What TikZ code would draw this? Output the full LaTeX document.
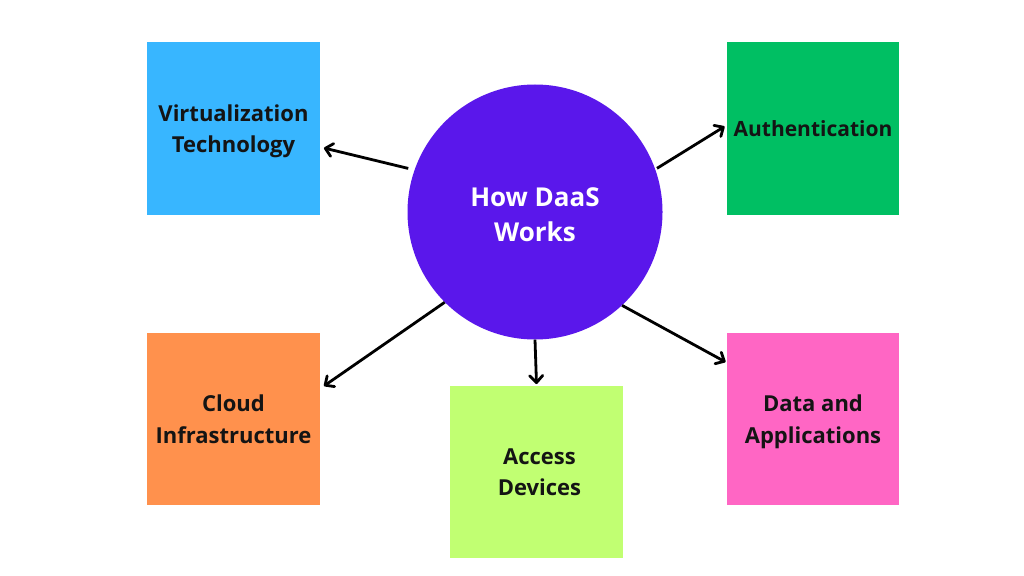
\documentclass[tikz,border=0pt]{standalone}
\usepackage{fontspec}
\setmainfont{Open Sans}
\usetikzlibrary{arrows.meta}
\definecolor{cblue}{HTML}{38B6FF}
\definecolor{cgreen}{HTML}{00BF63}
\definecolor{corange}{HTML}{FF914D}
\definecolor{clime}{HTML}{C1FF72}
\definecolor{cpink}{HTML}{FF66C4}
\definecolor{cpurple}{HTML}{5A17EB}
\newcommand{\nodepth}[1]{\raisebox{0pt}[\height][0pt]{#1}}
\newcommand{\tallertop}[1]{\raisebox{0pt}[\dimexpr\height+6pt\relax][\depth]{#1}}
\begin{document}
\begin{tikzpicture}[x=1pt,y=-1pt,
 tile/.style={minimum width=172.5pt,minimum height=172.5pt,inner sep=0pt,align=center,font=\fontsize{22pt}{31.5pt}\selectfont\bfseries,text=black!92},
 conn/.style={draw=black,line width=2.8pt,-{Straight Barb[length=7pt,width=13pt,line width=2.8pt,round]}}]
\useasboundingbox (0,0) rectangle (1024,575);
\fill[white] (0,0) rectangle (1024,575);
\node[tile,fill=cblue] (virt) at (233.5,128.5) {Virtualization\\\nodepth{Technology}};
\node[tile,fill=cgreen,font=\fontsize{21pt}{31.5pt}\selectfont\bfseries] (auth) at (813,128.5) {Authentication};
\node[tile,fill=corange] (cloud) at (233.5,419) {Cloud\\Infrastructure};
\node[tile,fill=clime] (access) at (536.5,472) {\hspace*{6pt}Access\\\hspace*{6pt}Devices};
\node[tile,fill=cpink] (data) at (813,419) {Data and\\\nodepth{Applications}};
\node[circle,fill=cpurple,minimum size=255pt,inner sep=0pt,align=center,text=white,font=\fontsize{26pt}{35pt}\selectfont\bfseries] (hub) at (535,212) {\tallertop{How DaaS}\\Works};
\draw[conn] ([shift={(-6,-2)}]hub.161) -- ([shift={(4,19.5)}]virt.east);
\draw[conn] ([shift={(2,0)}]hub.20) -- ([shift={(-2,-2)}]auth.west);
\draw[conn] (hub.225) -- ([shift={(4,-33)}]cloud.east);
\draw[conn] (hub.270) -- ([shift={(0,-1.5)}]access.north);
\draw[conn] (hub.313) -- ([shift={(-1,-57)}]data.west);
\end{tikzpicture}
\end{document}
